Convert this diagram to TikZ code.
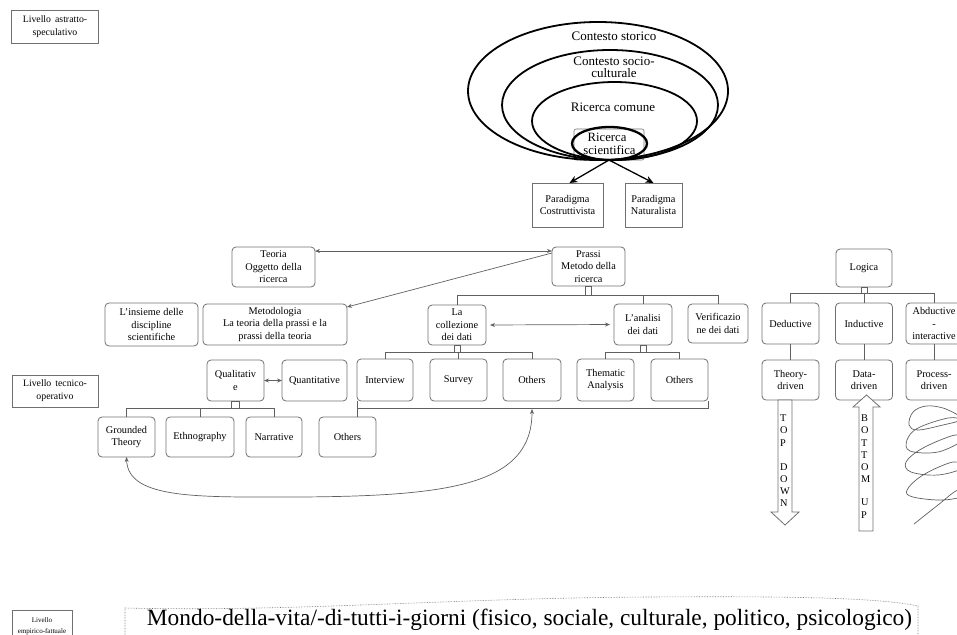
\documentclass[tikz,border=0pt]{standalone}
\usepackage{fontspec}
\setmainfont{Liberation Serif}
\usetikzlibrary{arrows.meta,calc}
\definecolor{boxgray}{HTML}{707070}
\definecolor{linegray}{HTML}{606060}
\begin{document}
\begin{tikzpicture}[x=1pt,y=-1pt,
  every node/.style={inner sep=0pt,outer sep=0pt},
  bx/.style={draw=boxgray,line width=0.8pt,rounded corners=4pt,align=center,
             font=\fontsize{10.3}{12.6}\selectfont},
  sq/.style={draw=boxgray,line width=0.8pt,align=center,
             font=\fontsize{10.3}{12.6}\selectfont},
  lvl/.style={sq,font=\fontsize{9.8}{12.8}\selectfont},
  conn/.style={draw=linegray,line width=0.7pt},
  tip/.style={-{Stealth[length=5pt,width=4pt]}},
  tips/.style={{Stealth[length=5pt,width=4pt]}-{Stealth[length=5pt,width=4pt]}},
  ell/.style={draw=black,line width=1.8pt},
  elabel/.style={align=center,font=\fontsize{13}{12}\selectfont},
  blockarrow/.style={draw=boxgray,line width=0.8pt,fill=white},
  vletters/.style={align=left,font=\fontsize{10.3}{12.2}\selectfont}
]
\useasboundingbox (0,0) rectangle (957,634);

% ---------- level labels ----------
\node[lvl,minimum width=87pt,minimum height=33pt] (lvlA) at (55,27)
  {Livello\hspace{4pt}astratto-\\speculativo};
\node[lvl,minimum width=86pt,minimum height=32pt] (lvlT) at (55,391)
  {Livello\hspace{4pt}tecnico-\\operativo};
\begin{scope}
  \clip (0,600) rectangle (957,634);
  \node[sq,minimum width=60pt,minimum height=32pt,font=\fontsize{7}{11}\selectfont,
        anchor=north] (lvlE) at (42,610) {Livello\\empirico-fattuale};
\end{scope}

% ---------- nested contexts ----------
\node[draw=boxgray,line width=0.6pt,rounded corners=2pt,minimum width=70pt,
      minimum height=31pt] (ricsci) at (609,144.5) {};
\draw[ell] (598,91) ellipse [x radius=130pt,y radius=69pt];
\draw[ell] (610,105) ellipse [x radius=108pt,y radius=55pt];
\draw[ell] (614.5,121) ellipse [x radius=82.5pt,y radius=39pt];
\draw[ell,line width=2.3pt] (609.5,143.5) ellipse [x radius=37.5pt,y radius=16.5pt];
\node[elabel] (lstorico) at (614,36) {Contesto storico};
\node[elabel] (lsocio) at (614,67) {Contesto socio-\\culturale};
\node[elabel] (lcomune) at (613,107) {Ricerca comune};
\node[elabel,font=\fontsize{12.7}{13}\selectfont] (lsci) at (607,144) {Ricerca\\\hspace{5pt}scientifica};

% ---------- paradigms ----------
\node[sq,minimum width=71pt,minimum height=44pt] (costr) at (567.5,205) {Paradigma\\Costruttivista};
\node[sq,minimum width=57pt,minimum height=44pt] (natur) at (653.5,205) {Paradigma\\Naturalista};
\draw[line width=1.3pt,-{Stealth[length=8pt,width=7pt]}] (ricsci.south) -- ([xshift=2pt]costr.north);
\draw[line width=1.3pt,-{Stealth[length=8pt,width=7pt]}] (ricsci.south) -- (natur.north);

% ---------- theory / practice ----------
\node[bx,minimum width=83pt,minimum height=40pt] (teoria) at (273.5,267) {Teoria\\Oggetto\hspace{3pt}della\\ricerca};
\node[bx,minimum width=73pt,minimum height=39pt] (prassi) at (588.5,266.5) {Prassi\\Metodo della\\ricerca};
\node[bx,minimum width=144pt,minimum height=41pt] (metod) at (275,324.5)
  {Metodologia\\La teoria\hspace{3pt}della prassi e la\\prassi della\hspace{3pt}teoria};
\node[bx,minimum width=93pt,minimum height=43pt] (insieme) at (151.5,324.5) {L'insieme\hspace{3pt}delle\\discipline\\scientifiche};
\node[bx,minimum width=58pt,minimum height=40pt] (collez) at (457,325) {La\\collezione\\dei dati};
\node[bx,minimum width=58pt,minimum height=41pt] (analisi) at (643,324.5) {L'analisi\\dei dati};
\node[bx,minimum width=60pt,minimum height=39pt] (verif) at (718,323.5) {Verificazio\\ne dei dati};

\draw[conn,tips] ([yshift=-4pt]teoria.north east) -- ([yshift=-4pt]prassi.north west);
\draw[conn,tip] ([yshift=-6pt]prassi.north west) -- ([yshift=-3pt]metod.north east);
\draw[conn,tips,shorten <=4pt,shorten >=4pt] (collez.east) -- (analisi.west);

% tree under Prassi
\coordinate (busP) at (0,295);
\draw[conn] ([xshift=-3pt]prassi.south) rectangle ([xshift=3pt]prassi.south |- busP);
\draw[conn] (collez.north |- busP) -- (verif.north |- busP);
\foreach \n in {collez,analisi,verif} \draw[conn] (\n.north) -- (\n.north |- busP);

% ---------- logic column ----------
\node[bx,minimum width=56pt,minimum height=38pt] (logica) at (864,268) {Logica};
\node[bx,minimum width=57pt,minimum height=41pt] (deduct) at (790.5,323.5) {Deductive};
\node[bx,minimum width=57pt,minimum height=41pt] (induct) at (864,323.5) {Inductive};
\node[bx,minimum width=56pt,minimum height=41pt] (abduct) at (934,323.5) {Abductive\\-\\interactive};
\node[bx,minimum width=57pt,minimum height=40pt] (thdriven) at (790.5,380) {Theory-\\driven};
\node[bx,minimum width=57pt,minimum height=40pt] (dadriven) at (864,380) {Data-\\driven};
\node[bx,minimum width=56pt,minimum height=40pt] (prdriven) at (934,380) {Process-\\driven};
\coordinate (busL) at (0,293);
\draw[conn] ([xshift=-3pt]logica.south) rectangle ([xshift=3pt]logica.south |- busL);
\draw[conn] (deduct.north |- busL) -- (abduct.north |- busL);
\foreach \n in {deduct,induct,abduct} \draw[conn] (\n.north) -- (\n.north |- busL);
\draw[conn] (deduct.south) -- (thdriven.north);
\draw[conn] (induct.south) -- (dadriven.north);
\draw[conn] (abduct.south) -- (prdriven.north);

% top-down and bottom-up block arrows
\draw[blockarrow] (778,400) -- (792,400) -- (792,512) -- (799,512) -- (785,525)
  -- (771,512) -- (778,512) -- cycle;
\node[vletters,anchor=north west] (topdown) at (780,415) {T\\O\\P\\[12pt]D\\O\\W\\N};
\draw[blockarrow] (866.5,395) -- (880,407) -- (873,407) -- (873,531) -- (859,531)
  -- (859,407) -- (853,407) -- cycle;
\node[vletters,anchor=north west] (bottomup) at (861,415) {B\\O\\T\\T\\O\\M\\[11pt]U\\P};

% abductive scribble
\begin{scope}
  \clip (895,398) rectangle (957,530);
  \draw[draw=linegray,line width=0.7pt] plot[smooth,tension=0.6] coordinates {
    (914,524) (938,505) (958,490) (968,495) (943,500) (913,497) (907,490)
    (923,475) (953,462) (963,468) (938,475) (911,472) (906,462) (923,448)
    (955,435) (963,440) (938,452) (910,451) (907,440) (918,428) (948,418)
    (961,420) (943,425) (918,430) (909,425) (913,412) (926,406) (943,408)
    (958,415)};
\end{scope}

% ---------- methods row ----------
\node[bx,minimum width=57pt,minimum height=41pt] (qual) at (235.5,380.5) {Qualitativ\\e};
\node[bx,minimum width=65pt,minimum height=41pt] (quant) at (314.5,380.5) {Quantitative};
\node[bx,minimum width=56pt,minimum height=42pt] (interv) at (385,380) {Interview};
\node[bx,minimum width=57pt,minimum height=42pt] (survey) at (458.5,380) {Survey};
\node[bx,minimum width=58pt,minimum height=42pt] (othA) at (532,380) {Others};
\node[bx,minimum width=57pt,minimum height=42pt] (themat) at (605.5,380) {Thematic\\Analysis};
\node[bx,minimum width=57pt,minimum height=42pt] (othB) at (679.5,380) {Others};
\draw[conn,tips] (qual.east) -- (quant.west);

\coordinate (busC) at (0,352);
\draw[conn] ([xshift=-3pt]collez.south) rectangle ([xshift=3pt]collez.south |- busC);
\draw[conn] (interv.north |- busC) -- (othA.north |- busC);
\foreach \n in {interv,survey,othA} \draw[conn] (\n.north) -- (\n.north |- busC);
\draw[conn] ([xshift=-3pt]analisi.south) rectangle ([xshift=3pt]analisi.south |- busC);
\draw[conn] (themat.north |- busC) -- (othB.north |- busC);
\foreach \n in {themat,othB} \draw[conn] (\n.north) -- (\n.north |- busC);

% ---------- qualitative approaches ----------
\node[bx,minimum width=57pt,minimum height=40pt] (grounded) at (126.5,437) {Grounded\\Theory};
\node[bx,minimum width=68pt,minimum height=40pt] (ethno) at (200,437) {Ethnography};
\node[bx,minimum width=56pt,minimum height=40pt] (narr) at (274,437) {Narrative};
\node[bx,minimum width=57pt,minimum height=40pt] (othC) at (347.5,437) {Others};
\coordinate (busQ) at (0,408);
\draw[conn] ([xshift=-4pt]qual.south) rectangle ([xshift=4pt]qual.south |- busQ);
\draw[conn] (grounded.north |- busQ) -- (narr.north |- busQ);
\foreach \n in {grounded,ethno,narr} \draw[conn] (\n.north) -- (\n.north |- busQ);

% bracket under the data collection / analysis techniques
\coordinate (brkL) at (interv.south west |- busQ);
\coordinate (brkR) at (othB.south east |- busQ);
\coordinate (brkM) at (othA.south |- busQ);
\draw[conn] (interv.south west) -- (brkL) -- (brkR) -- (othB.south east);
\draw[conn] (brkL) -- (brkL |- othC.north);
\draw[conn,tips] (grounded.south) .. controls (128,500) and (200,497) .. (300,497)
  .. controls (450,496) and (532,485) .. ([yshift=-1pt]brkM);

% ---------- empirical level ----------
\draw[draw=boxgray,line width=0.6pt,densely dotted]
  (125,640) -- (125,608) .. controls (300,612) and (450,598) .. (650,597)
  .. controls (800,596) and (880,598) .. (918,606) -- (918,640);
\node (mondo) at (529.5,620) {\resizebox{765pt}{!}{Mondo-della-vita/-di-tutti-i-giorni (fisico, sociale, culturale, politico, psicologico)}};
\end{tikzpicture}
\end{document}
